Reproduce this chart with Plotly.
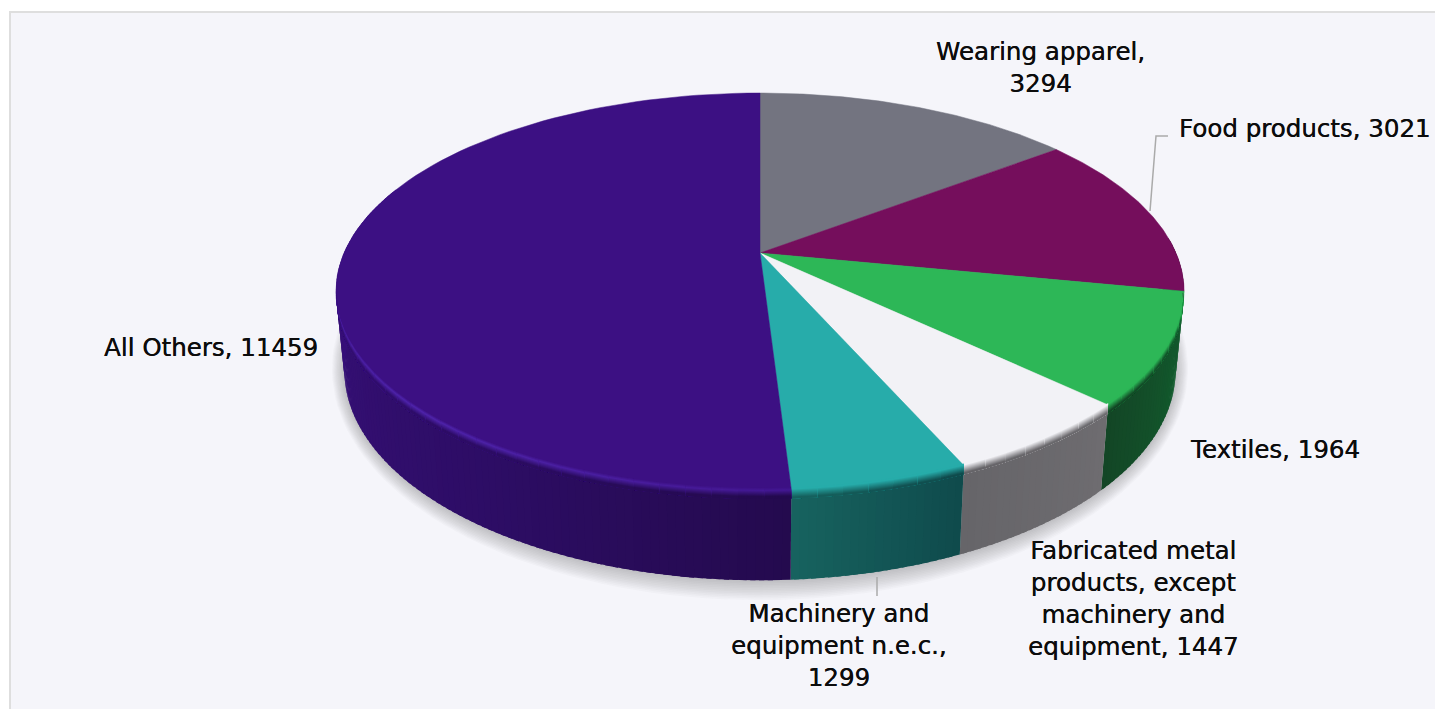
import numpy as np
import plotly.graph_objects as go

# ---- data ----
categories = ["Wearing apparel", "Food products", "Textiles",
              "Fabricated metal products, except machinery and equipment",
              "Machinery and equipment n.e.c.", "All Others"]
values = [3294, 3021, 1964, 1447, 1299, 11459]
line_breaks = ["Wearing apparel,", "Fabricated metal", "products, except",
               "machinery and", "Machinery and", "equipment n.e.c.,"]

# ---- styles ----
top_colors = ["#737480", "#750e5c", "#2db757", "#f2f2f6", "#27acaa", "#3c1083"]
# wall shade anchors, from start to end of each slice
wall_colors = [["#3c3d44", "#3c3d44"], ["#3d0830", "#3d0830"], ["#12602f", "#134626"],
               ["#6e6c70", "#666569"], ["#0f4a4c", "#17635f"],
               ["#240a4e", "#2d0d65", "#340f73", "#3a1083", "#3c1083", "#3c1083"]]
edge_colors = ["#737480", "#750e5c", "#2db757", "#f2f2f6", "#27acaa", "#4f24ab"]
label_pos = [(1040, 67.5), (1304, 128), (1275, 449), (1133, 598), (839, 645), (211, 347)]
FONT = "DejaVu Sans"
FONT_SIZE = 24.5

# ---- projection of a unit disc to the page (pixel-scaled axes) ----
CX, CY, A, B, K = 760.0, 253.0, 416.0, 191.0, 0.194
W, H = 1435, 709


def rim(th):
    # slight angular correction of the reference's 3D renderer on the front-right
    th = np.radians(th + np.interp(th, [0, 101, 132, 156, 176, 360], [0, 0, 1, 0.5, 0, 0]))
    u, v = np.sin(th), -np.cos(th)
    w = 1 - K * v
    return CX + A * u / w, CY + B * v / w


def base(th):
    x, y = rim(th)
    return CX + (x - CX) * 0.98, y + 79 + 0.0568 * (y - 291)


def at_depth(th, t):
    x0, y0 = rim(th)
    x1, y1 = base(th)
    d = y1 - y0
    return x0 + (x1 - x0) * t / d, y0 + t


def hex2rgb(c):
    return np.array([int(c[i:i + 2], 16) for i in (1, 3, 5)], dtype=float)


def mix(c1, c2, f):
    a = hex2rgb(c1) * (1 - f) + hex2rgb(c2) * f
    return "rgb(%d,%d,%d)" % tuple(a.round())


def grad(stops, f):
    f = min(max(f, 0), 1) * (len(stops) - 1)
    i = min(int(f), len(stops) - 2)
    return mix(stops[i], stops[i + 1], f - i)


def rgb2hex(s):
    r = s[4:-1].split(",")
    return "#%02x%02x%02x" % tuple(int(float(p)) for p in r)


fig = go.Figure()


def poly(xs, ys, color, lw=0.0):
    fig.add_trace(go.Scatter(x=xs, y=ys, mode="lines", fill="toself", fillcolor=color,
                             line=dict(color=color, width=lw), hoverinfo="skip", showlegend=False))


total = sum(values)
edges = np.concatenate([[0], np.cumsum(values)]) / total * 360


def make_bands(step):
    out = []
    for i in range(len(values)):
        a0, a1 = edges[i], edges[i + 1]
        n = max(int(np.ceil((a1 - a0) / step)), 1)
        es = np.linspace(a0, a1, n + 1)
        for j in range(n):
            mid = (es[j] + es[j + 1]) / 2
            if 85 < mid < 290:
                out.append((i, es[j], min(es[j + 1] + 0.6, a1), (mid - a0) / (a1 - a0)))
    return out


# shadow
ring = np.linspace(0, 360, 181)
bx, by = base(ring)
cyb = 386.0
for k in range(1, 13):
    sx = CX + (bx - CX) * (1 + 0.0025 * k)
    sy = cyb + (by - cyb) * (1 + 0.0085 * k)
    poly(sx, sy, "rgba(80,80,100,0.03)")

# walls
for i, a, b, f in make_bands(1.0):
    th = np.linspace(a, b, 3)
    x0, y0 = rim(th)
    x1, y1 = base(th)
    poly(np.r_[x0, x1[::-1]], np.r_[y0, y1[::-1]], grad(wall_colors[i], f))

# top face
for i in range(len(values)):
    th = np.linspace(edges[i], edges[i + 1], 90)
    x, y = rim(th)
    poly(np.r_[CX, x, CX], np.r_[CY, y, CY], top_colors[i], 0.5)

# soft rounded edge between top face and wall
T_STEPS = list(np.arange(-2, 9, 1.0))
T_END = 9
for i, a, b, f in make_bands(3.0):
    wall = rgb2hex(grad(wall_colors[i], f))
    th = np.linspace(a, b, 4)
    mid_th = (a + b) / 2
    edge = edge_colors[i]
    if i == 5:
        fade = np.interp(mid_th, [176, 195, 225, 270, 285], [0.35, 0.7, 1, 0.6, 0.1])
        edge = rgb2hex(mix(top_colors[i], edge_colors[i], fade))
    for t in T_STEPS:
        if t < 0:
            c = mix(top_colors[i], edge, (t + 3) / 3)
        elif i == 5:
            c = mix(edge, wall, min(t / 6, 1))
        else:
            c = mix(edge, wall, min((t + 1) / 8, 1))
        xa, ya = at_depth(th, t)
        xb, yb = at_depth(th, T_END)
        keep = ya >= 291
        if keep.sum() < 2:
            continue
        poly(np.r_[xa[keep], xb[keep][::-1]], np.r_[ya[keep], yb[keep][::-1]], c)

# leader lines
fig.add_trace(go.Scatter(x=[1150, 1156, 1168], y=[211, 136, 136], mode="lines",
                         line=dict(color="#aaaaaa", width=1.5), hoverinfo="skip", showlegend=False))
fig.add_trace(go.Scatter(x=[877, 877], y=[577, 596], mode="lines",
                         line=dict(color="#aaaaaa", width=1.5), hoverinfo="skip", showlegend=False))

# labels
for c, v, (lx, ly) in zip(categories, values, label_pos):
    s = f"{c}, {v}"
    for br in line_breaks:
        s = s.replace(br + " ", br + "<br>")
    fig.add_annotation(x=lx, y=ly, text=s, showarrow=False, xanchor="center", yanchor="middle",
                       align="center",
                       font=dict(family=FONT, size=FONT_SIZE, color="#0c0c0c",
                                 shadow="0.35px 0 0 #0c0c0c"))

fig.update_layout(
    width=W, height=H, margin=dict(l=0, r=0, t=0, b=0), autosize=False,
    paper_bgcolor="#ffffff", plot_bgcolor="#ffffff", showlegend=False,
    xaxis=dict(range=[0, W], visible=False, fixedrange=True),
    yaxis=dict(range=[H, 0], visible=False, fixedrange=True),
    shapes=[dict(type="rect", xref="x", yref="y", x0=10, y0=12, x1=W + 20, y1=H + 20,
                 line=dict(color="#dedede", width=2), fillcolor="#f5f5fa", layer="below")],
)
fig.write_html("out.html", config={"displayModeBar": False},
               post_script="document.body.style.margin='0';document.documentElement.style.overflow='hidden';")
